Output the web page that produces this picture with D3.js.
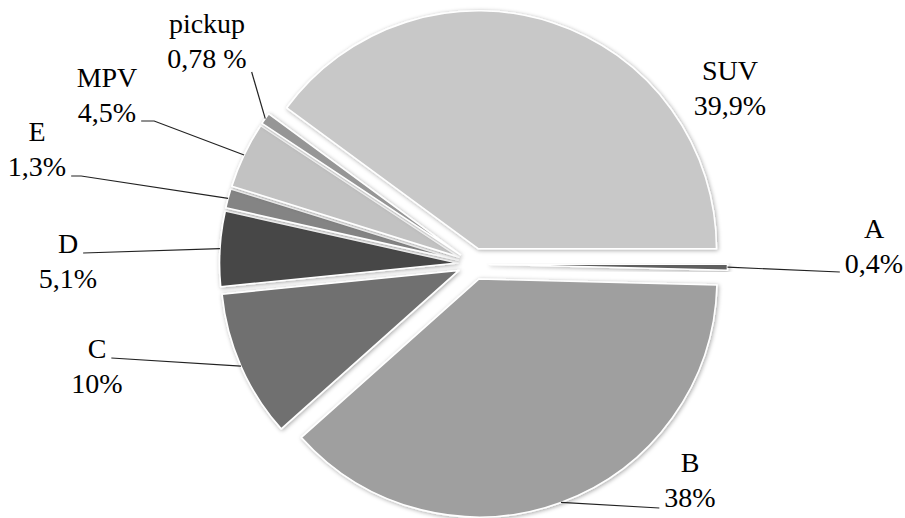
<!DOCTYPE html>
<html>
<head>
<meta charset="utf-8">
<script src="https://cdn.jsdelivr.net/npm/d3@7"></script>
<style>
  html, body { margin: 0; padding: 0; background: #fff; }
  svg { display: block; }
</style>
</head>
<body>
<div class="pie-chart"></div>
<script>
'use strict';

// segment shares, in drawing order (clockwise from 3 o'clock)
const segments = ['A', 'B', 'C', 'D', 'E', 'MPV', 'pickup', 'SUV'];
const shares = [0.4, 38, 10, 5.1, 1.3, 4.5, 0.78, 39.9];
const shareLabels = ['0,4%', '38%', '10%', '5,1%', '1,3%', '4,5%', '0,78 %', '39,9%'];

const greys = ['#5f5f5f', '#9f9f9f', '#707070', '#474747', '#848484', '#c2c2c2', '#969696', '#c8c8c8'];

// where each label sits (centre x, first baseline y) and how its leader leaves it
const labelLayout = {
    'A':      {x: 874, y: 238, line: 1, side: 'left',  land: 0, dy: -1},
    'B':      {x: 690, y: 472, line: 1, side: 'left',  land: 0, dy: 1},
    'C':      {x: 97,  y: 358, line: 0, side: 'right', land: 0, dy: 0},
    'D':      {x: 68,  y: 253, line: 0, side: 'right', land: 0, dy: 0},
    'E':      {x: 37,  y: 141, line: 1, side: 'right', land: 10, dy: 0},
    'MPV':    {x: 107, y: 87,  line: 1, side: 'right', land: 13, dy: -1},
    'pickup': {x: 207, y: 33,  line: 1, side: 'right', land: 0, dy: 4},
    'SUV':    {x: 730, y: 80,  line: 1, side: null,    land: 0, dy: 0}
};

const width = 905;
const height = 518;
const cx = 473.5;
const cy = 264;
const radius = 238;
const explode = 16;
const lineGap = 35;
const fontFamily = '"Liberation Serif", "Times New Roman", Times, serif';

const data = segments.map((name, i) => ({name: name, value: shares[i], label: shareLabels[i]}));

const svg = d3.select('.pie-chart')
    .append('svg')
    .attr('width', width)
    .attr('height', height);

const defs = svg.append('defs');
defs.append('filter')
    .attr('id', 'soft')
    .attr('x', '-20%').attr('y', '-20%').attr('width', '140%').attr('height', '140%')
    .append('feDropShadow')
    .attr('dx', 1).attr('dy', 1)
    .attr('stdDeviation', 2)
    .attr('flood-color', '#000')
    .attr('flood-opacity', 0.35);

const color = d3.scaleOrdinal().domain(segments).range(greys);

const pie = d3.pie()
    .sort(null)
    .startAngle(Math.PI / 2)
    .endAngle(Math.PI / 2 + 2 * Math.PI)
    .value((d) => d.value);

const arc = d3.arc().innerRadius(0).outerRadius(radius);

const arcs = pie(data);

// explode offset along the middle of each slice
const offsetOf = (d) => {
    const mid = (d.startAngle + d.endAngle) / 2;
    return [Math.sin(mid) * explode, -Math.cos(mid) * explode];
};

const chart = svg.append('g').attr('transform', `translate(${cx},${cy})`);

chart.selectAll('.slice')
    .data(arcs)
    .enter().append('path')
    .attr('class', 'slice')
    .attr('transform', (d) => {
        const o = offsetOf(d);
        return `translate(${o[0]},${o[1]})`;
    })
    .attr('d', arc)
    .style('fill', (d) => color(d.data.name))
    .style('stroke', '#fff')
    .style('stroke-width', 1.6)
    .style('stroke-linejoin', 'round')
    .attr('filter', 'url(#soft)');

// labels
const labels = svg.selectAll('.label')
    .data(arcs)
    .enter().append('g')
    .attr('class', 'label');

labels.each(function(d) {
    const pos = labelLayout[d.data.name];
    const g = d3.select(this);
    const lines = [d.data.name, d.data.label];
    const boxes = lines.map((txt, i) => {
        const t = g.append('text')
            .attr('x', pos.x)
            .attr('y', pos.y + i * lineGap)
            .attr('text-anchor', 'middle')
            .attr('font-family', fontFamily)
            .attr('font-size', 28)
            .attr('fill', '#000')
            .text(txt);
        return t.node().getBBox();
    });

    if (!pos.side) return;

    const box = boxes[pos.line];
    const baseY = pos.y + pos.line * lineGap + pos.dy;
    const startX = pos.side === 'right' ? box.x + box.width + 5 : box.x - 5;
    const dir = pos.side === 'right' ? 1 : -1;

    // point on the outer edge of the slice, mid angle
    const o = offsetOf(d);
    const mid = (d.startAngle + d.endAngle) / 2;
    const ex = cx + o[0] + Math.sin(mid) * radius;
    const ey = cy + o[1] - Math.cos(mid) * radius;

    const pts = [[startX, baseY]];
    if (pos.land) pts.push([startX + dir * pos.land, baseY]);
    pts.push([ex, ey]);

    g.append('path')
        .attr('d', d3.line()(pts))
        .style('fill', 'none')
        .style('stroke', '#222')
        .style('stroke-width', 1.2);
});
</script>
</body>
</html>
